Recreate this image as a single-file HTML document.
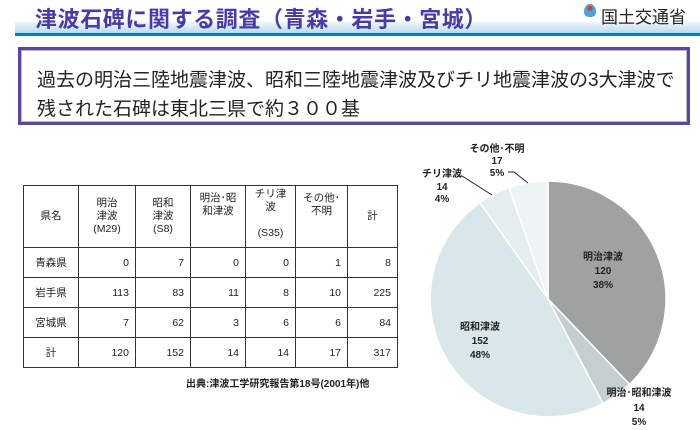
<!DOCTYPE html>
<html><head><meta charset="utf-8"><style>
body{margin:0;width:700px;height:430px;background:#fff;position:relative;overflow:hidden;font-family:"Liberation Sans","Noto Sans CJK JP",sans-serif;}
.t{position:absolute;white-space:nowrap;}
table{position:absolute;left:23px;top:185px;border-collapse:collapse;font-size:10.5px;color:#222;}
td{border:1px solid #333;padding:0 6px;height:29px;text-align:right;}
td:first-child{text-align:center;}
tr.h td{height:55px;text-align:center;line-height:13px;}
</style></head><body>
<div style="position:absolute;left:15px;top:22px;width:685px;height:11px;background:linear-gradient(#eef6fb,#bcdaeb);"></div>
<div style="position:absolute;left:15px;top:33px;width:685px;height:3px;background:#0b7fb0;"></div>
<div class="t" style="left:35px;top:2px;font-size:22px;font-weight:bold;color:#4a3aa8;letter-spacing:0.6px;">津波石碑に関する調査（青森・岩手・宮城）</div>
<div style="position:absolute;left:584px;top:4px;width:12px;height:15px;border-radius:50%;background:radial-gradient(circle at 50% 30%,#e33 0 20%,#4aa3dd 22% 70%,#fff 72%);"></div>
<div class="t" style="left:601px;top:3px;font-size:17px;color:#222;">国土交通省</div>
<div style="position:absolute;left:18px;top:47px;width:666px;height:72px;border:3px solid #5b45a8;box-shadow:inset 0 0 0 1px #bbb;"></div>
<div class="t" style="left:37px;top:65px;font-size:19px;color:#222;">過去の明治三陸地震津波、昭和三陸地震津波及びチリ地震津波の3大津波で</div>
<div class="t" style="left:37px;top:94px;font-size:19px;color:#222;">残された石碑は東北三県で約３００基</div>
<table>
<tr class="h"><td style="width:42px">県名</td><td style="width:44px">明治<br>津波<br>(M29)</td><td style="width:42px">昭和<br>津波<br>(S8)</td><td style="width:42px;vertical-align:top;padding-top:6px">明治･昭<br>和津波</td><td style="width:37px;vertical-align:top;padding-top:2px">チリ津<br>波<br><br>(S35)</td><td style="width:39px;vertical-align:top;padding-top:6px">その他･<br>不明</td><td style="width:37px">計</td></tr>
<tr><td>青森県</td><td>0</td><td>7</td><td>0</td><td>0</td><td>1</td><td>8</td></tr>
<tr><td>岩手県</td><td>113</td><td>83</td><td>11</td><td>8</td><td>10</td><td>225</td></tr>
<tr><td>宮城県</td><td>7</td><td>62</td><td>3</td><td>6</td><td>6</td><td>84</td></tr>
<tr><td>計</td><td>120</td><td>152</td><td>14</td><td>14</td><td>17</td><td>317</td></tr>
</table>
<div class="t" style="left:186px;top:375px;font-size:10px;font-weight:bold;color:#222;">出典:津波工学研究報告第18号(2001年)他</div>
<svg style="position:absolute;left:0;top:0" width="700" height="430">
<g stroke="#fff" stroke-width="1.5">
<path d="M548,299 L548,181 A118,118 0 0 1 629.5,384.3Z" fill="#a0a2a2"/>
<path d="M548,299 L629.5,384.3 A118,118 0 0 1 603,403.4Z" fill="#c5ced1"/>
<path d="M548,299 L603,403.4 A118,118 0 0 1 480,202.6Z" fill="#d9e7eb"/>
<path d="M548,299 L480,202.6 A118,118 0 0 1 509,187.6Z" fill="#e4edf0"/>
<path d="M548,299 L509,187.6 A118,118 0 0 1 548,181Z" fill="#eef4f6"/>
</g>
<polyline points="458,176 462,176 492,195" fill="none" stroke="#222" stroke-width="1"/>
<polyline points="508,172 514,172 528,183" fill="none" stroke="#222" stroke-width="1"/>
<g font-family="Liberation Sans,Noto Sans CJK JP,sans-serif" font-size="10" font-weight="bold" fill="#222" text-anchor="middle">
<text x="603" y="260">明治津波</text><text x="603" y="274">120</text><text x="603" y="288">38%</text>
<text x="480" y="330">昭和津波</text><text x="480" y="344">152</text><text x="480" y="358">48%</text>
<text x="639" y="396">明治･昭和津波</text><text x="639" y="411">14</text><text x="639" y="425">5%</text>
<text x="442" y="177">チリ津波</text><text x="442" y="190">14</text><text x="442" y="202">4%</text>
<text x="497" y="152">その他･不明</text><text x="497" y="164">17</text><text x="497" y="176">5%</text>
</g>
</svg>
</body></html>
